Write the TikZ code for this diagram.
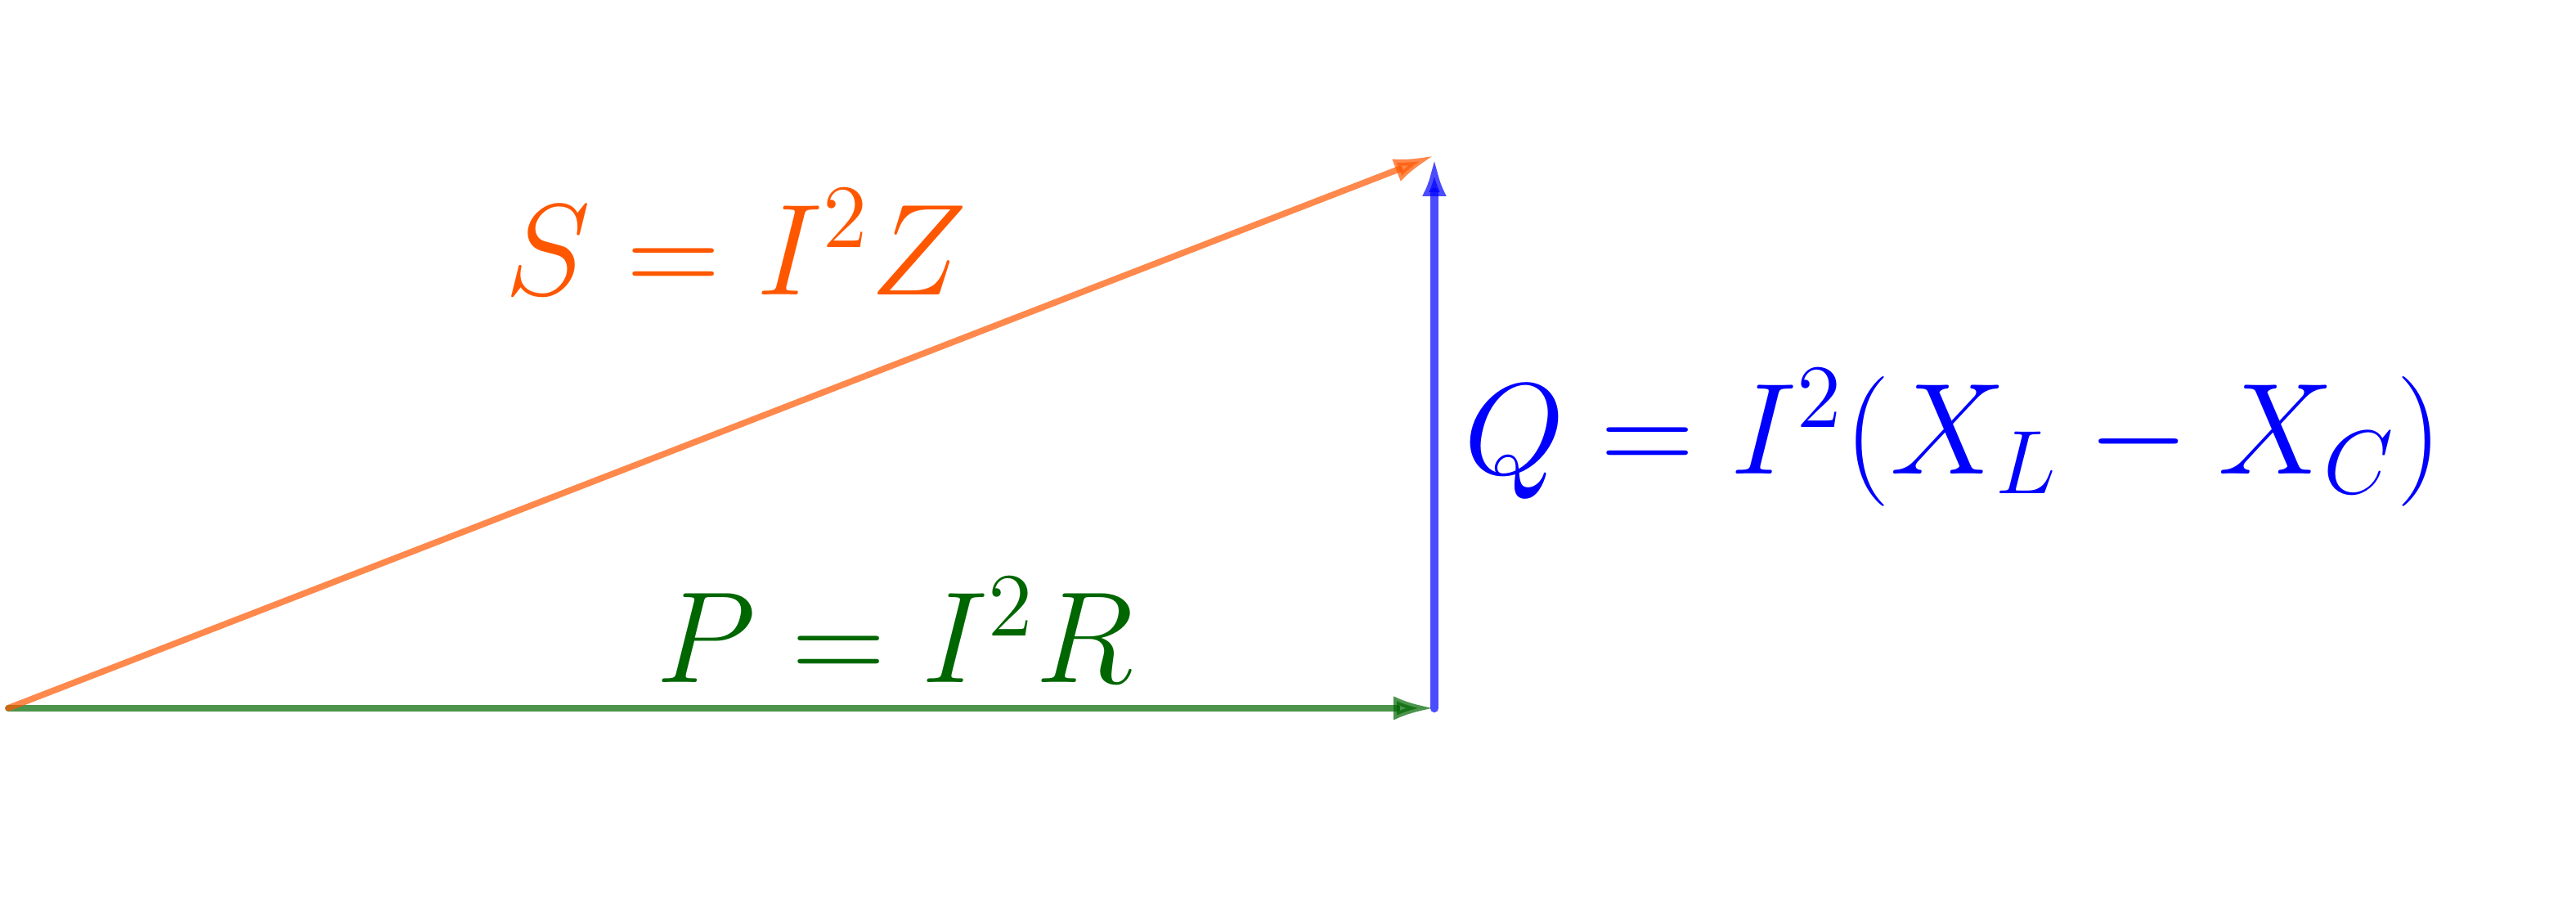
\documentclass[tikz,border=0pt]{standalone}
\usepackage{amsmath}
\usepackage{xcolor}
\usetikzlibrary{arrows.meta}

\definecolor{sorange}{RGB}{255,87,0}
\definecolor{pgreen}{RGB}{0,102,0}
\definecolor{qblue}{RGB}{0,0,255}

\tikzset{
  phasor/.style={line width=1pt, line cap=round, opacity=0.7,
    -{Latex[length=6.5pt,width=3.8pt]}},
  eqlabel/.style={inner sep=0pt, font=\fontsize{20.2}{24}\selectfont, anchor=base west}
}

\begin{document}
\begin{tikzpicture}
  \useasboundingbox (-0.046,-1.115) rectangle (14.404,3.972);
  \coordinate (O) at (0,0);
  \coordinate (P) at (8,0);
  \coordinate (Q) at (8,3.1);

  \draw[phasor, pgreen] (O) -- (P);
  \draw[phasor, qblue, line width=1.4pt] (P) -- (Q);
  \draw[phasor, sorange] (O) -- (Q);

  \node[eqlabel, text=sorange] (slabel) at (2.78,2.32) {$S = I^2 Z$};
  \node[eqlabel, text=pgreen] (plabel) at (3.63,0.142) {$P = I^2 R$};
  \node[eqlabel, text=qblue] (qlabel) at (8.16,1.312) {$Q = I^2(X_L - X_C)$};
\end{tikzpicture}
\end{document}
